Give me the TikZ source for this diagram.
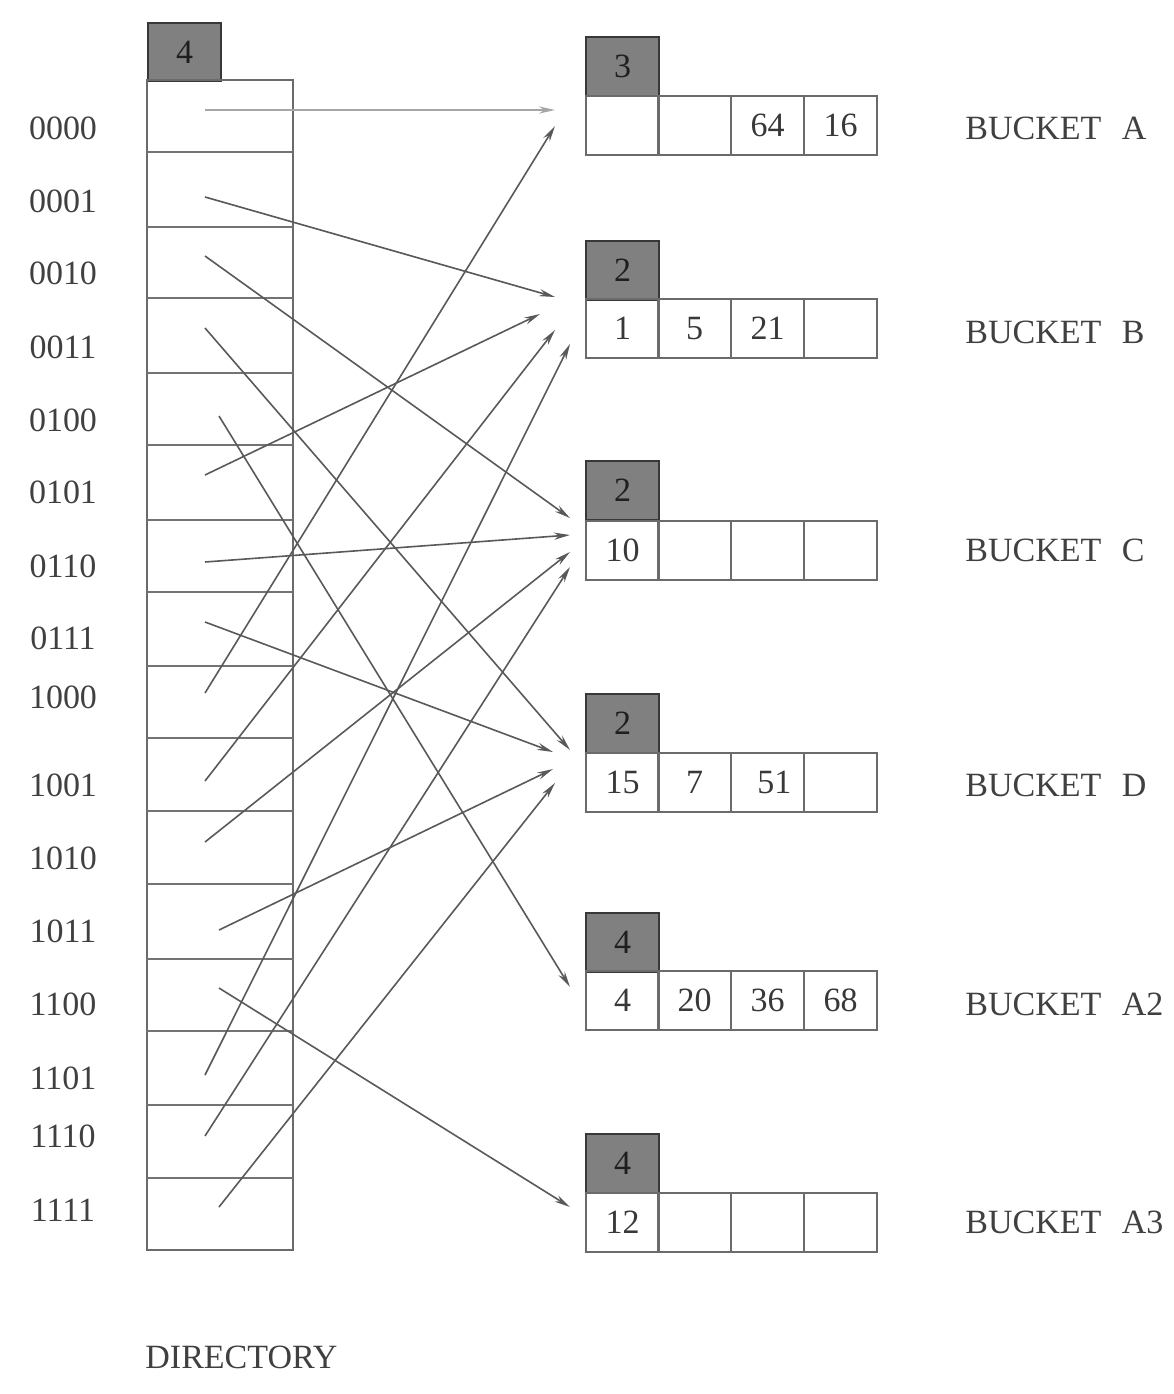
\documentclass[tikz,border=0pt]{standalone}
\usepackage{fontspec}
\setmainfont{Liberation Serif}
\usetikzlibrary{arrows.meta}
\begin{document}
\begin{tikzpicture}[x=0.5pt,y=-0.5pt,
  every node/.style={font=\fontsize{17}{20}\selectfont},
  hdr/.style={draw=black!78, fill=black!50, line width=1pt, minimum width=36.5pt, minimum height=29.5pt, inner sep=0pt, anchor=north west, text=black!88},
  cell/.style={draw=black!58, line width=1pt, minimum width=36.5pt, minimum height=29.5pt, inner sep=0pt, anchor=north west, text=black!78},
  lbl/.style={text=black!75, inner sep=0pt},
  arr/.style={draw=black!65, line width=0.8pt, -{Stealth[length=8pt,width=3.6pt]}},
  arrl/.style={arr, draw=black!35}]
\useasboundingbox (0,0) rectangle (1174,1394);

% ---------- directory ----------
\node[hdr, minimum width=36.5pt, minimum height=29pt] (dh) at (147,22) {4};
\draw[draw=black!58, line width=1pt] (147,80) rectangle (293,1250);
\foreach \yy in {152,227,298,373,445,520,592,666,738,811,884,959,1031,1105,1178}
  \draw[draw=black!55, line width=1pt] (147,\yy) -- (293,\yy);

\foreach \t/\yy [count=\i from 0] in {0000/128,0001/201,0010/273,0011/347,0100/420,0101/492,0110/566,0111/638,1000/697,1001/785,1010/858,1011/931,1100/1004,1101/1078,1110/1136,1111/1210}
  \node[lbl] (l\i) at (63,\yy) {\t};

\node[lbl, anchor=west] (dir) at (145,1357) {DIRECTORY};

% ---------- buckets ----------
% bucket A
\node[hdr] (Ah) at (585,36) {3};
\node[cell] (A1) at (585,95) {};
\node[cell] (A2c) at (657,95) {};
\node[cell] (A3c) at (730,95) {64};
\node[cell] (A4c) at (803,95) {16};
\node[lbl, anchor=west] (Al) at (965,128) {BUCKET\hspace{0.6em}A};
% bucket B
\node[hdr] (Bh) at (585,240) {2};
\node[cell] (B1) at (585,298) {1};
\node[cell] (B2) at (657,298) {5};
\node[cell] (B3) at (730,298) {21};
\node[cell] (B4) at (803,298) {};
\node[lbl, anchor=west] (Bl) at (965,332) {BUCKET\hspace{0.6em}B};
% bucket C
\node[hdr] (Ch) at (585,460) {2};
\node[cell] (C1) at (585,520) {10};
\node[cell] (C2) at (657,520) {};
\node[cell] (C3) at (730,520) {};
\node[cell] (C4) at (803,520) {};
\node[lbl, anchor=west] (Cl) at (965,550) {BUCKET\hspace{0.6em}C};
% bucket D
\node[hdr] (Dh) at (585,693) {2};
\node[cell] (D1) at (585,752) {15};
\node[cell] (D2) at (657,752) {7};
\node[cell] (D3) at (730,752) {\hspace{0.4em}51};
\node[cell] (D4) at (803,752) {};
\node[lbl, anchor=west] (Dl) at (965,785) {BUCKET\hspace{0.6em}D};
% bucket A2
\node[hdr] (Eh) at (585,912) {4};
\node[cell] (E1) at (585,970) {4};
\node[cell] (E2) at (657,970) {20};
\node[cell] (E3) at (730,970) {36};
\node[cell] (E4) at (803,970) {68};
\node[lbl, anchor=west] (El) at (965,1004) {BUCKET\hspace{0.6em}A2};
% bucket A3
\node[hdr] (Fh) at (585,1133) {4};
\node[cell] (F1) at (585,1192) {12};
\node[cell] (F2) at (657,1192) {};
\node[cell] (F3) at (730,1192) {};
\node[cell] (F4) at (803,1192) {};
\node[lbl, anchor=west] (Fl) at (965,1222) {BUCKET\hspace{0.6em}A3};

% ---------- pointer coordinates ----------
\coordinate (s0) at (205,110);  \coordinate (e0) at (555,110);
\coordinate (s1) at (205,197);  \coordinate (e1) at (555,297);
\coordinate (s2) at (205,256);  \coordinate (e2) at (570,518);
\coordinate (s3) at (205,328);  \coordinate (e3) at (570,750);
\coordinate (s4) at (219,416);  \coordinate (e4) at (570,987);
\coordinate (s5) at (205,475);  \coordinate (e5) at (540,314);
\coordinate (s6) at (205,562);  \coordinate (e6) at (570,535);
\coordinate (s7) at (205,622);  \coordinate (e7) at (553,752);
\coordinate (s8) at (205,693);  \coordinate (e8) at (555,126);
\coordinate (s9) at (205,781);  \coordinate (e9) at (555,330);
\coordinate (s10) at (205,842); \coordinate (e10) at (570,552);
\coordinate (s11) at (219,930); \coordinate (e11) at (553,769);
\coordinate (s12) at (219,988); \coordinate (e12) at (570,1207);
\coordinate (s13) at (205,1075);\coordinate (e13) at (570,344);
\coordinate (s14) at (205,1136);\coordinate (e14) at (570,567);
\coordinate (s15) at (219,1207);\coordinate (e15) at (555,783);

\draw[arrl] (s0) -- (e0);
\foreach \i in {1,...,15}
  \draw[arr] (s\i) -- (e\i);
\end{tikzpicture}
\end{document}
